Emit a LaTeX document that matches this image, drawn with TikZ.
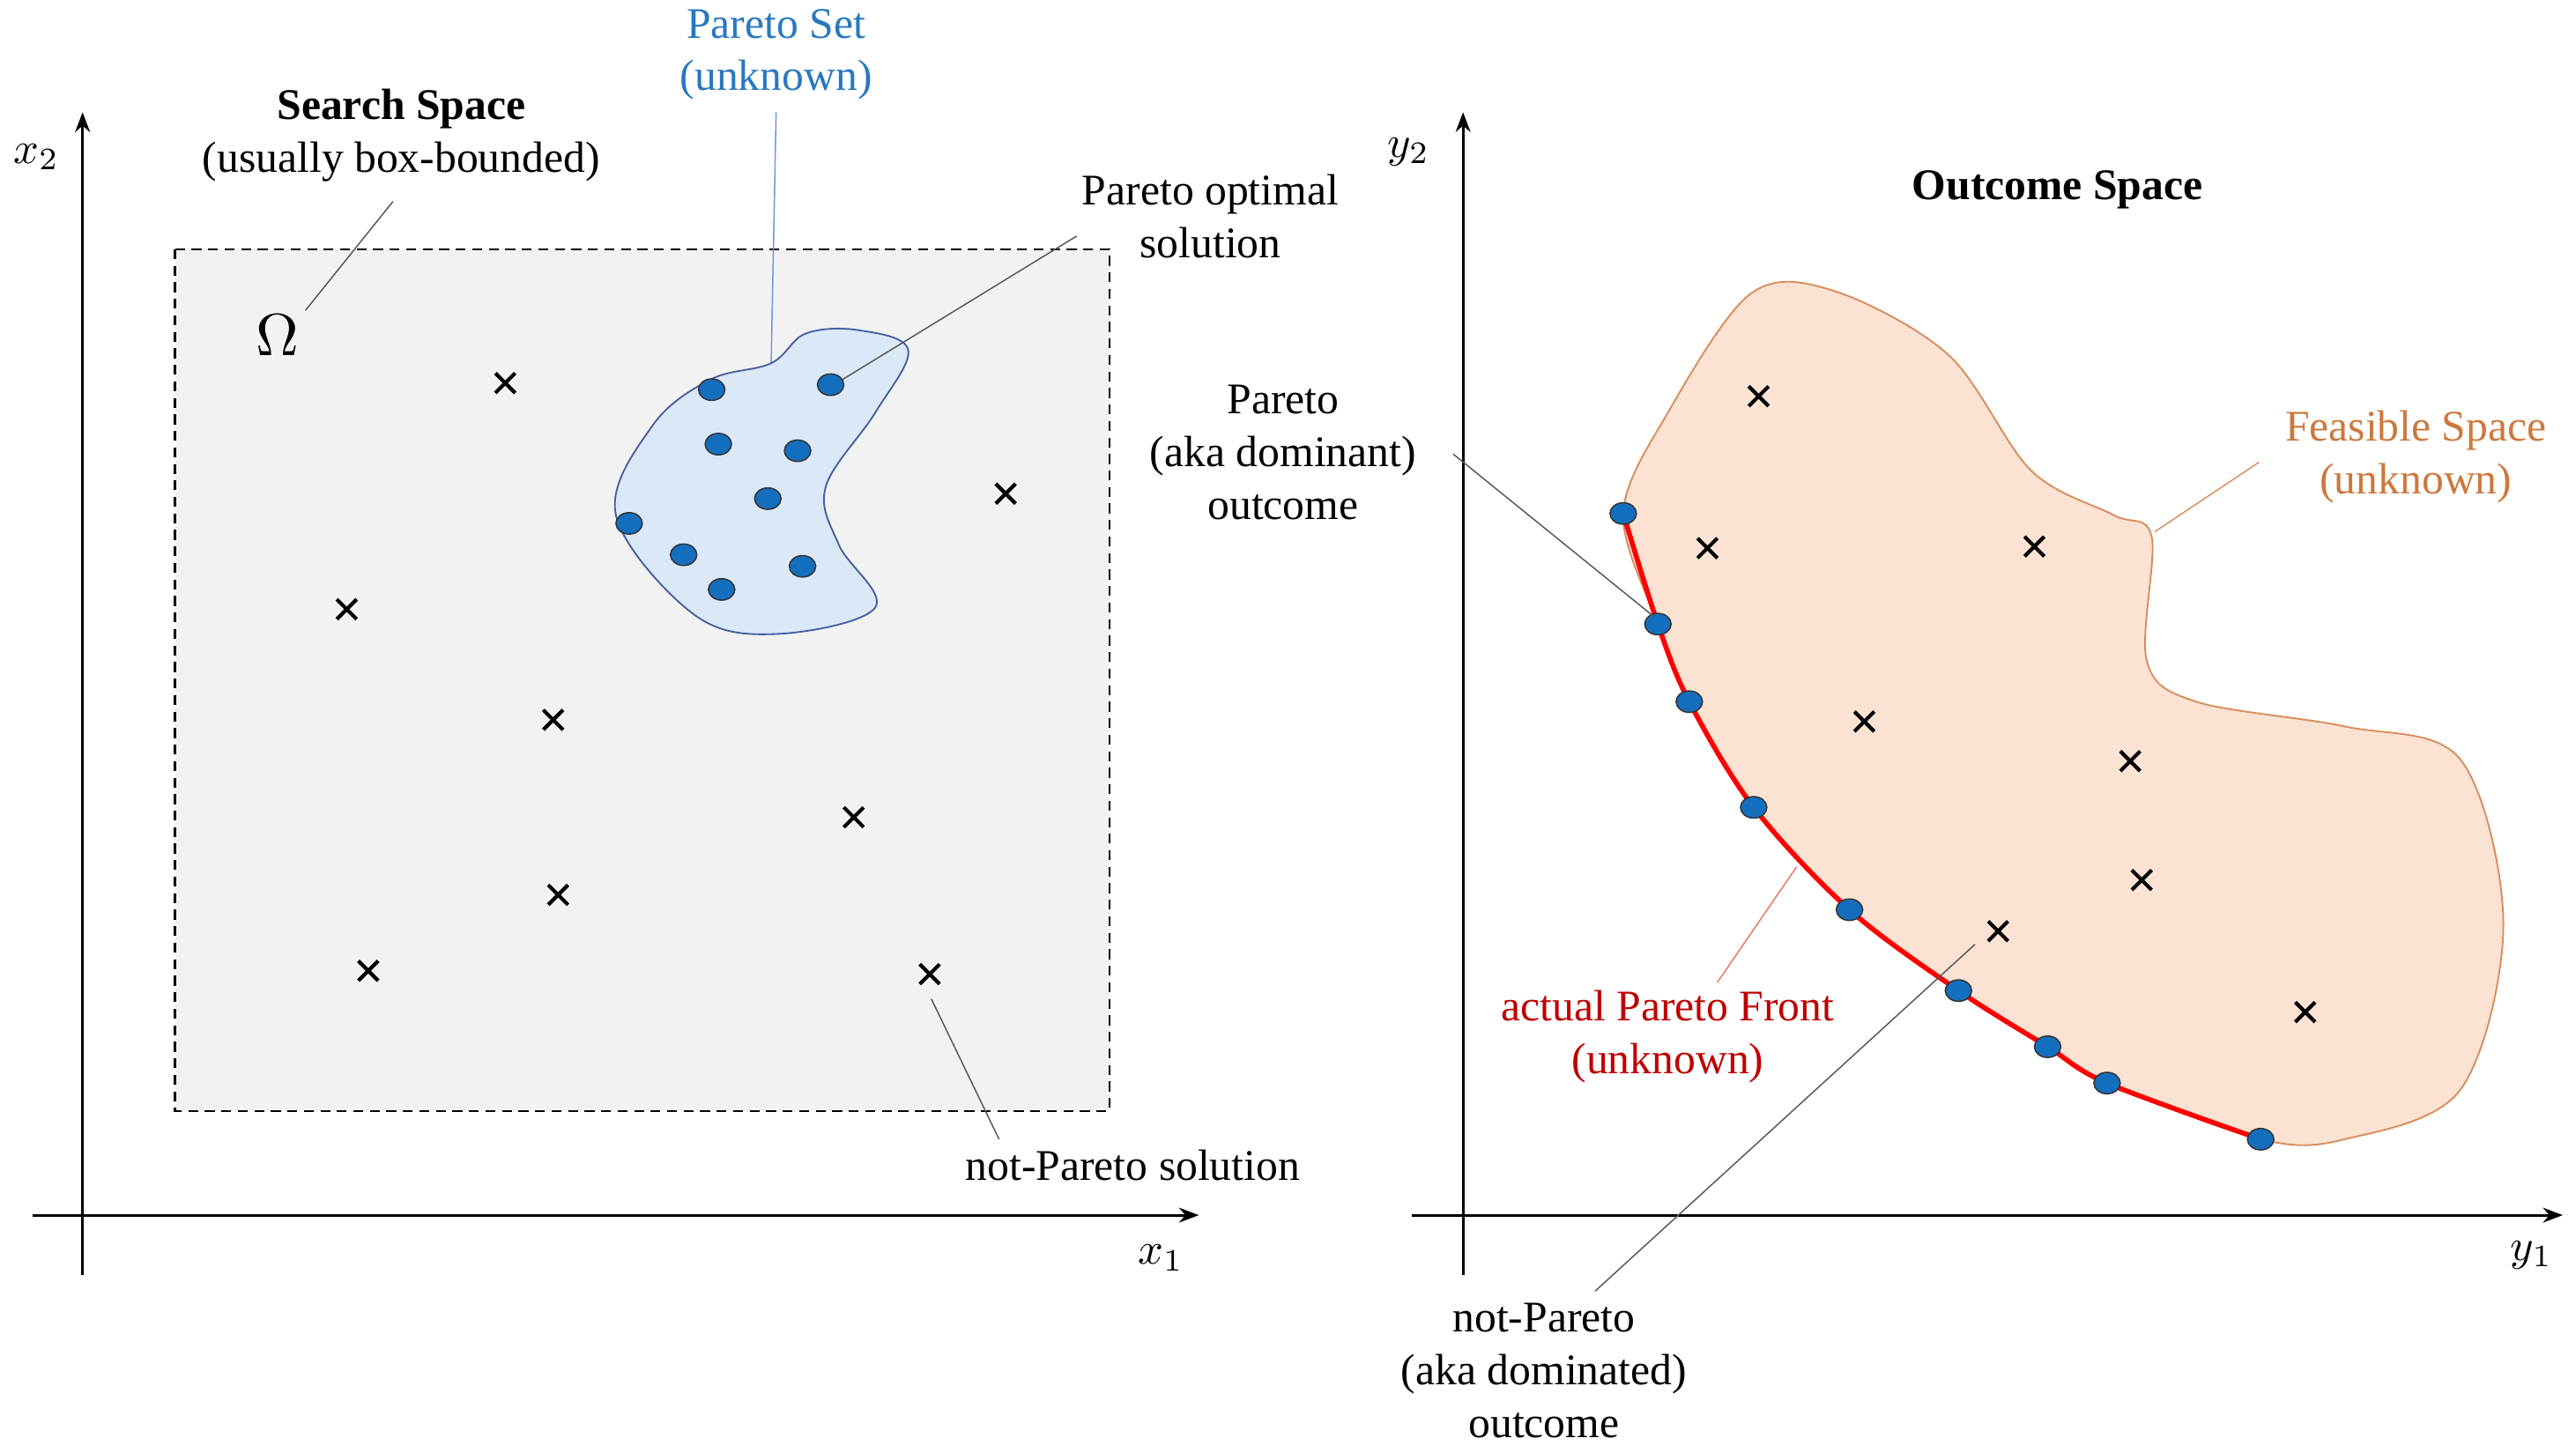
\documentclass[tikz,border=0pt]{standalone}
\usepackage{fontspec}
\setmainfont{Liberation Serif}
\usetikzlibrary{arrows.meta}
\definecolor{peach}{RGB}{251,226,210}
\definecolor{peachline}{RGB}{215,140,90}
\definecolor{peachtext}{RGB}{205,120,60}
\definecolor{setfill}{RGB}{218,232,247}
\definecolor{setline}{RGB}{70,95,160}
\definecolor{dotblue}{RGB}{20,110,190}
\definecolor{pblue}{RGB}{40,120,190}
\begin{document}
\begin{tikzpicture}[x=1pt,y=-1pt,
  every node/.style={font=\fontsize{26.5}{32}\selectfont,align=center,inner sep=0pt},
  mathlbl/.style={font=\normalsize,scale=2.7},
  ax/.style={line width=1.6pt,-{Stealth[length=12pt,width=9pt]}},
  lead/.style={line width=0.8pt,draw=gray!70!black},
  cross/.style={line width=2.2pt}]
\useasboundingbox (0,0) rectangle (1560,880);
\newcommand{\crs}[2]{\draw[cross] (#1-6,#2-6) -- (#1+6,#2+6) (#1-6,#2+6) -- (#1+6,#2-6);}
\newcommand{\pt}[2]{\fill[draw=black!80,fill=dotblue,line width=0.8pt] (#1,#2) ellipse (8pt and 6.5pt);}
% ---------------- left
\draw[fill=gray!10,dashed,line width=1.4pt,dash pattern=on 6pt off 4pt] (106,151) rectangle (672,673);
\draw[ax] (50,772) -- (50,68);
\draw[ax] (20,736) -- (726,736);
\node[mathlbl] (x2) at (22,95) {$x_2$};
\node[mathlbl] (x1) at (703,762) {$x_1$};
\node (ss) at (243,82) {\textbf{Search Space}\\(usually box-bounded)};
\node[font=\normalsize,scale=3.6] (om) at (168,203) {$\Omega$};
\draw[lead] (185,188) -- (238,122);
\node[text=pblue] (ps) at (470,33) {Pareto Set\\(unknown)};
\draw[lead,draw=cyan!50!blue!60] (470,68) -- (467,220);
\draw[fill=setfill,draw=setline,line width=1pt] plot[smooth cycle,tension=0.6] coordinates {(373,312)(395,258)(430,230)(467,220)(488,202)(520,200)(550,212)(530,250)(500,295)(508,330)(530,368)(470,384)(420,372)};
\node (po) at (733,131) {Pareto optimal\\solution};
\draw[lead] (652,143) -- (510,230);
\foreach \a/\b in {431/236,503/233,435/269,483/273,465/302,381/317,414/336,486/343,437/357} {\pt{\a}{\b}}
\foreach \a/\b in {306/232,609/299,210/369,335/436,517/495,338/542,223/588,563/590} {\crs{\a}{\b}}
\node (np) at (686,706) {not-Pareto solution};
\draw[lead] (564,605) -- (605,690);
% ---------------- right
\draw[ax] (886,772) -- (886,68);
\draw[ax] (855,736) -- (1552,736);
\node[mathlbl] (y2) at (853,92) {$y_2$};
\node[mathlbl] (y1) at (1533,760) {$y_1$};
\node (os) at (1246,115) {\textbf{Outcome Space}};
\draw[fill=peach,draw=peachline,line width=1pt] plot[smooth cycle,tension=0.55] coordinates {(983,311)(1004,378)(1023,425)(1062,489)(1120,551)(1186,600)(1240,634)(1276,656)(1369,690)(1420,690)(1490,660)(1516,560)(1490,460)(1420,440)(1330,425)(1300,400)(1303,325)(1280,312)(1230,285)(1180,215)(1110,176)(1060,178)(1010,250)};
\draw[red,line width=3pt] plot[smooth,tension=0.55] coordinates {(983,311)(1004,378)(1023,425)(1062,489)(1120,551)(1186,600)(1240,634)(1276,656)(1369,690)};
\foreach \a/\b in {983/311,1004/378,1023/425,1062/489,1120/551,1186/600,1240/634,1276/656,1369/690} {\pt{\a}{\b}}
\foreach \a/\b in {1065/240,1034/332,1232/331,1129/437,1290/461,1297/533,1210/564,1396/613} {\crs{\a}{\b}}
\node (pd) at (777,274) {Pareto\\(aka dominant)\\outcome};
\draw[lead] (880,275) -- (1001,373);
\node[text=peachtext] (fs) at (1463,277) {Feasible Space\\(unknown)};
\draw[lead,draw=peachline] (1368,280) -- (1305,322);
\node[text=red!75!black] (apf) at (1010,628) {actual Pareto Front\\(unknown)};
\draw[lead,draw=red!50!brown!70] (1040,595) -- (1088,525);
\node (nd) at (935,830) {not-Pareto\\(aka dominated)\\outcome};
\draw[lead] (966,782) -- (1196,572);
\end{tikzpicture}
\end{document}
